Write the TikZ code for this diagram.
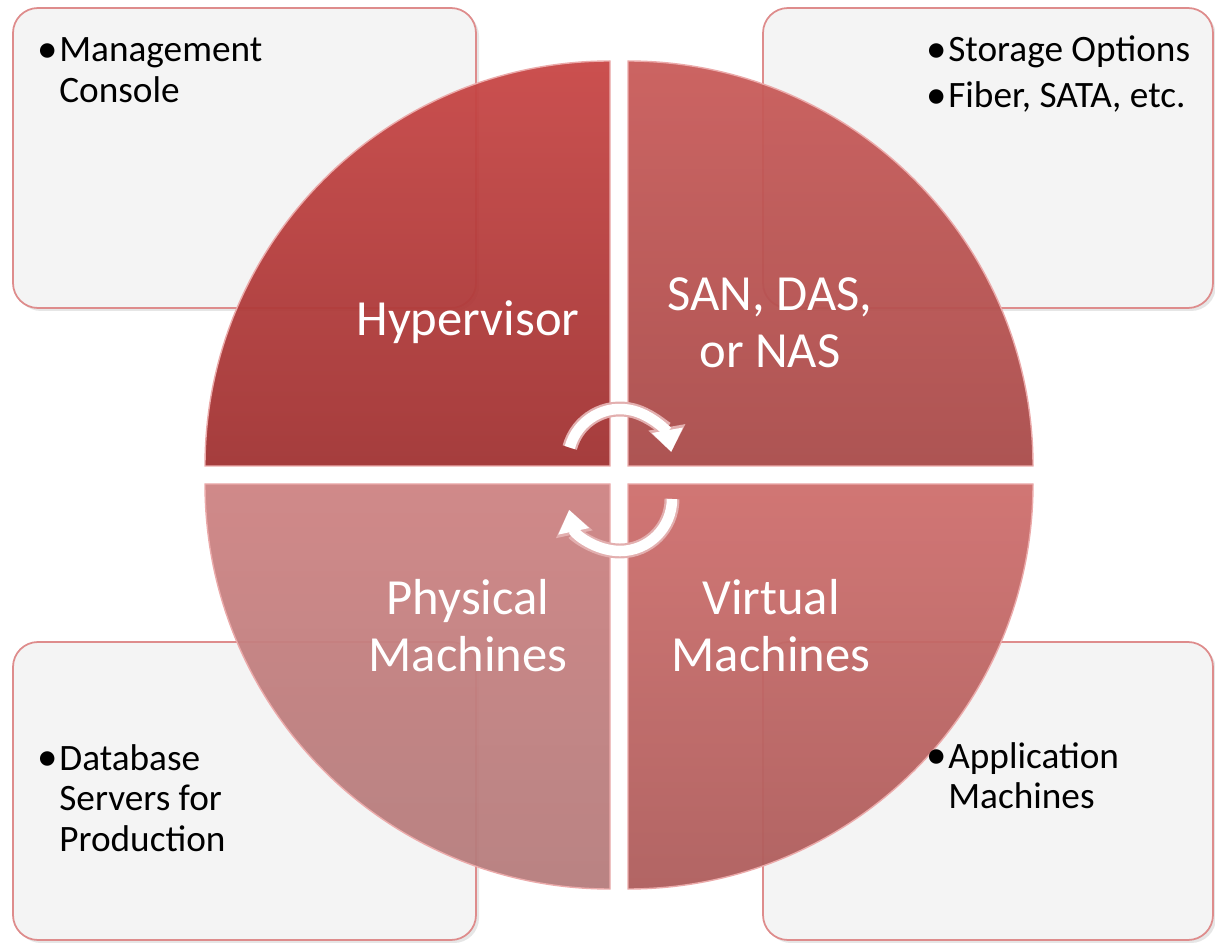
\documentclass[tikz,border=0pt]{standalone}
\usepackage{fontspec}
\setmainfont{Carlito}
\usetikzlibrary{positioning,shadows,arrows.meta}

\definecolor{boxfill}{HTML}{F4F4F4}
\definecolor{boxline}{HTML}{DE8C8C}
\definecolor{rim}{HTML}{EBAAAA}
\definecolor{hypTop}{HTML}{C84746}
\definecolor{hypBot}{HTML}{A03333}
\definecolor{sanTop}{HTML}{C95C5A}
\definecolor{sanBot}{HTML}{A94B4A}
\definecolor{physTop}{HTML}{CD8383}
\definecolor{physBot}{HTML}{B57C7C}
\definecolor{virtTop}{HTML}{CE6F6D}
\definecolor{virtBot}{HTML}{AE5D5C}
\definecolor{cycleRim}{HTML}{E3AFAF}

\newcommand{\bul}{\makebox[0.44cm][l]{\raisebox{-0.02em}{\scalebox{1.1}{\textbullet}}}}

\begin{document}
\begin{tikzpicture}[
infobox/.style={rectangle, rounded corners=0.5cm, draw=boxline, line width=1pt, fill=boxfill, minimum height=6cm, drop shadow={opacity=0.2, shadow xshift=0.06cm, shadow yshift=-0.06cm}},
bullets/.style={anchor=base west, inner sep=0pt, font=\fontsize{21.2}{23.2}\selectfont},
quarter/.style={draw=rim, line width=0.8pt, fill opacity=0.95},
quadlabel/.style={align=center, text=white, font=\fontsize{28.8}{32.4}\selectfont},
cycleout/.style={draw=cycleRim, line width=8.5pt, -{Triangle[length=0.5cm, width=0.72cm]}},
cyclein/.style={draw=white, line width=6pt, -{Triangle[length=0.44cm, width=0.6cm]}},
]

\useasboundingbox (0,0) rectangle (24.3,18.84);

% corner boxes
\node[infobox, minimum width=9.26cm] (tlbox) at (4.89,15.68) {};
\node[infobox, minimum width=9.0cm] (trbox) at (19.76,15.68) {};
\node[infobox, minimum width=9.26cm, minimum height=5.96cm] (blbox) at (4.89,3.02) {};
\node[infobox, minimum width=9.0cm, minimum height=5.96cm] (brbox) at (19.76,3.02) {};

% four quarters of the disc
\path[quarter, top color=hypTop, bottom color=hypBot] (12.20,9.52) -- ++(-8.1,0) arc (180:90:8.1) -- cycle;
\path[quarter, top color=sanTop, bottom color=sanBot] (12.56,9.52) -- ++(0,8.1) arc (90:0:8.1) -- cycle;
\path[quarter, top color=virtTop, bottom color=virtBot] (12.56,9.16) -- ++(8.1,0) arc (0:-90:8.1) -- cycle;
\path[quarter, top color=physTop, bottom color=physBot] (12.20,9.16) -- ++(0,-8.1) arc (270:180:8.1) -- cycle;

\node[quadlabel] (hyp) at (9.36,12.40) {Hypervisor};
\node[quadlabel] (san) at (15.40,12.38) {SAN, DAS,\\or NAS};
\node[quadlabel] (phys) at (9.36,6.32) {Physical\\Machines};
\node[quadlabel] (virt) at (15.42,6.32) {Virtual\\Machines};

% bullet texts
\node[bullets] (mgmt) at (0.74,17.60) {\begin{tabular}[t]{@{}l@{}l@{}}\bul & Management\\ & Console\end{tabular}};
\node[bullets] (store) at (18.52,17.60) {\begin{tabular}[t]{@{}l@{}l@{}}\bul & Storage Options\\[2.8pt] \bul & Fiber, SATA, etc.\end{tabular}};
\node[bullets] (dbase) at (0.74,3.44) {\begin{tabular}[t]{@{}l@{}l@{}}\bul & Database\\ & Servers for\\ & Production\end{tabular}};
\node[bullets] (apps) at (18.52,3.48) {\begin{tabular}[t]{@{}l@{}l@{}}\bul & Application\\ & Machines\end{tabular}};

% cycle arrows in the middle
\coordinate (hubtop) at (12.40,9.62);
\coordinate (hubbot) at (12.40,8.86);
\draw[cycleout] ([shift={(165:1.04)}]hubtop) arc[start angle=165, end angle=10, radius=1.04];
\draw[cyclein] ([shift={(165:1.04)}]hubtop) arc[start angle=165, end angle=10, radius=1.04];
\draw[cycleout] ([shift={(0:1.04)}]hubbot) arc[start angle=0, end angle=-168, radius=1.04];
\draw[cyclein] ([shift={(0:1.04)}]hubbot) arc[start angle=0, end angle=-168, radius=1.04];

\end{tikzpicture}
\end{document}
